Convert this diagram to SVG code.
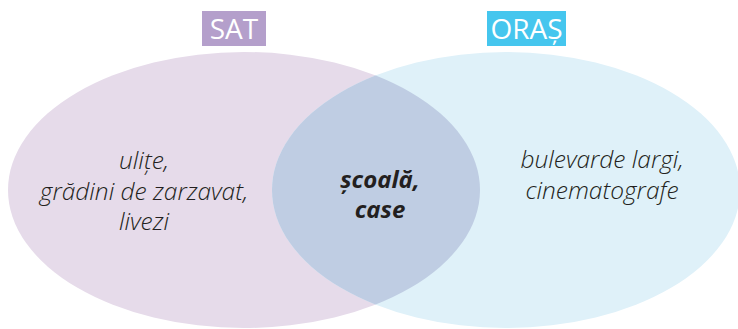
<svg xmlns="http://www.w3.org/2000/svg" width="738" height="329" viewBox="0 0 738 329">
  <style>
    .lbl { font-family: "Open Sans", "Liberation Sans", sans-serif; font-size: 28px; fill: #ffffff; text-anchor: middle; }
    .it { font-family: "Open Sans", "Liberation Sans", sans-serif; font-style: italic; font-weight: 300; font-size: 24.5px; fill: #231f20; text-anchor: middle; }
    .bi { font-family: "Open Sans", "Liberation Sans", sans-serif; font-style: italic; font-weight: bold; font-size: 24px; fill: #231f20; text-anchor: middle; }
  </style>
  <defs>
    <clipPath id="clipRight">
      <ellipse cx="506" cy="190" rx="234" ry="138"/>
    </clipPath>
  </defs>
  <rect width="738" height="329" fill="#ffffff"/>
  <g id="sat">
    <ellipse cx="244" cy="190" rx="236" ry="138" fill="#e6dbea"/>
  </g>
  <g id="oras">
    <ellipse cx="506" cy="190" rx="234" ry="138" fill="#dff1f9"/>
  </g>
  <g id="intersectie">
    <ellipse cx="244" cy="190" rx="236" ry="138" fill="#bfcde3" clip-path="url(#clipRight)"/>
  </g>
  <g id="label-sat">
    <rect x="202" y="11" width="64" height="35" fill="#b49fcb"/>
    <text class="lbl" x="234" y="39">SAT</text>
  </g>
  <g id="label-oras">
    <rect x="487" y="11" width="79" height="35" fill="#45c6ee"/>
    <text class="lbl" x="526.5" y="39">ORAȘ</text>
  </g>
  <g id="text-sat">
    <text class="it" x="144" y="169">ulițe,</text>
    <text class="it" x="144" y="200">grădini de zarzavat,</text>
    <text class="it" x="144" y="230">livezi</text>
  </g>
  <g id="text-comun">
    <text class="bi" x="380" y="188">școală,</text>
    <text class="bi" x="380" y="218">case</text>
  </g>
  <g id="text-oras">
    <text class="it" x="602" y="168">bulevarde largi,</text>
    <text class="it" x="602" y="199">cinematografe</text>
  </g>
  <g id="connectors"/>
</svg>
